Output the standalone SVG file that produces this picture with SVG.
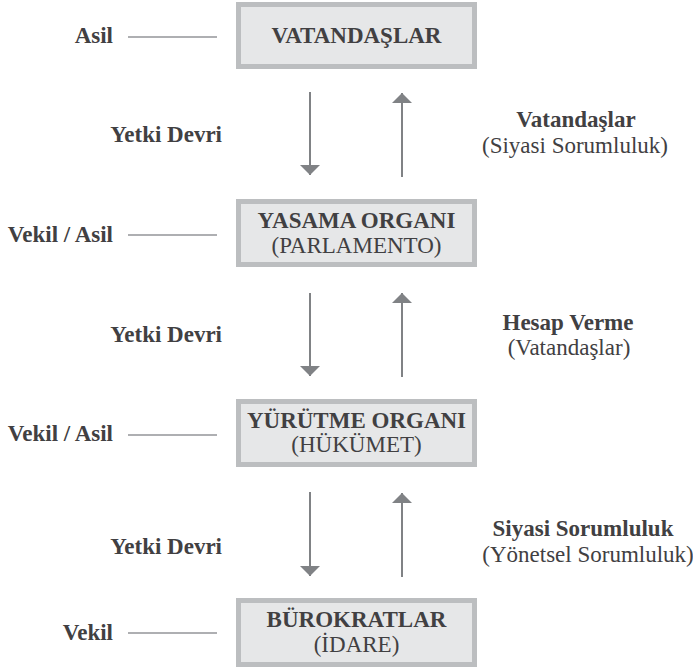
<svg xmlns="http://www.w3.org/2000/svg" width="693" height="669" viewBox="0 0 693 669">
<style>
.box{fill:#e6e7e8;stroke:#bcbec0;stroke-width:5}
.t{font-family:'Liberation Serif',serif;font-size:23px;fill:#414042}
.b{font-weight:bold}
.c{text-anchor:middle}
.e{text-anchor:end}
.arr{stroke:#808285;stroke-width:2;fill:none;marker-end:url(#ah)}
.lead{stroke:#939598;stroke-width:1.5}
</style>
<defs>
<marker id="ah" viewBox="0 0 10 20" markerUnits="userSpaceOnUse" markerWidth="10" markerHeight="20" refX="10" refY="10" orient="auto">
<path d="M0,0 L10,10 L0,20 z" fill="#808285"/>
</marker>
</defs>
<rect width="693" height="669" fill="#ffffff"/>
<g id="node-vatandaslar">
<rect class="box" x="238.5" y="4.5" width="236" height="62"/>
<text class="t b c" x="356.5" y="43">VATANDAŞLAR</text>
</g>
<g id="node-yasama">
<rect class="box" x="238.5" y="201.5" width="236" height="63"/>
<text class="t b c" x="356.5" y="228">YASAMA ORGANI</text>
<text class="t c" x="356.5" y="253">(PARLAMENTO)</text>
</g>
<g id="node-yurutme">
<rect class="box" x="238.5" y="401.5" width="236" height="63"/>
<text class="t b c" x="356.5" y="428">YÜRÜTME ORGANI</text>
<text class="t c" x="356.5" y="452">(HÜKÜMET)</text>
</g>
<g id="node-burokratlar">
<rect class="box" x="238.5" y="600.5" width="236" height="64"/>
<text class="t b c" x="356.5" y="627">BÜROKRATLAR</text>
<text class="t c" x="356.5" y="652">(İDARE)</text>
</g>
<g id="connectors">
<line class="arr" x1="310" y1="92" x2="310" y2="175"/>
<line class="arr" x1="402" y1="177" x2="402" y2="93"/>
<line class="arr" x1="310" y1="293" x2="310" y2="376"/>
<line class="arr" x1="402" y1="377" x2="402" y2="293"/>
<line class="arr" x1="310" y1="492" x2="310" y2="576"/>
<line class="arr" x1="402" y1="577" x2="402" y2="493"/>
<line class="lead" x1="128" y1="37" x2="217" y2="37"/>
<line class="lead" x1="128" y1="235" x2="217" y2="235"/>
<line class="lead" x1="128" y1="435" x2="217" y2="435"/>
<line class="lead" x1="128" y1="633" x2="217" y2="633"/>
</g>
<g id="labels-left">
<text class="t b e" x="113" y="43">Asil</text>
<text class="t b e" x="113" y="242">Vekil / Asil</text>
<text class="t b e" x="113" y="441">Vekil / Asil</text>
<text class="t b e" x="113" y="640">Vekil</text>
<text class="t b e" x="222" y="142">Yetki Devri</text>
<text class="t b e" x="222" y="342">Yetki Devri</text>
<text class="t b e" x="222" y="554">Yetki Devri</text>
</g>
<g id="labels-right">
<text class="t b c" x="576" y="127">Vatandaşlar</text>
<text class="t c" x="575" y="153">(Siyasi Sorumluluk)</text>
<text class="t b c" x="568" y="330">Hesap Verme</text>
<text class="t c" x="569" y="355">(Vatandaşlar)</text>
<text class="t b c" x="583" y="536">Siyasi Sorumluluk</text>
<text class="t c" x="588" y="562">(Yönetsel Sorumluluk)</text>
</g>
</svg>
